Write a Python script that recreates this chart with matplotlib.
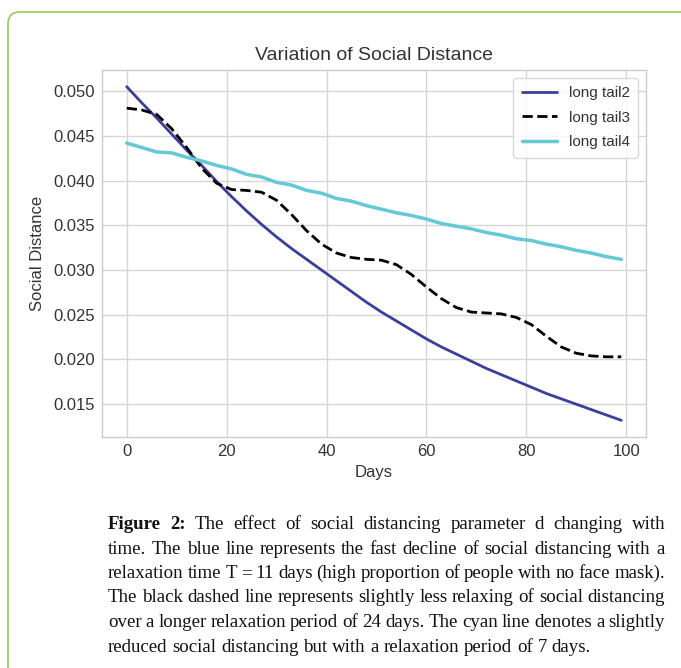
import matplotlib
matplotlib.use("Agg")
import matplotlib.pyplot as plt
from matplotlib.patches import FancyBboxPatch

# data (every 3 days)
days = list(range(0, 100, 3))
tail2 = [.0505, .0487, .0470, .0452, .0434, .0417, .0399, .0382, .0366, .0351,
         .0337, .0324, .0312, .0300, .0288, .0276, .0264, .0253, .0243, .0233,
         .0223, .0214, .0206, .0198, .0190, .0183, .0176, .0169, .0162, .0156,
         .0150, .0144, .0138, .0132]
tail3 = [.0481, .0479, .0474, .0458, .0437, .0414, .0397, .0390, .0389, .0387,
         .0378, .0362, .0344, .0329, .0319, .0314, .0312, .0311, .0306, .0295,
         .0281, .0268, .0258, .0253, .0252, .0251, .0247, .0239, .0226, .0214,
         .0207, .0204, .0203, .0203]
tail4 = [.0442, .0437, .0432, .0431, .0426, .0422, .0417, .0413, .0407, .0404,
         .0398, .0395, .0389, .0386, .0380, .0377, .0372, .0368, .0364, .0361,
         .0357, .0352, .0349, .0346, .0342, .0339, .0335, .0333, .0329, .0326,
         .0322, .0319, .0315, .0312]
labels = ["long tail2", "long tail3", "long tail4"]

caption = [
    "Figure 2: The effect of social distancing parameter d changing with",
    "time. The blue line represents the fast decline of social distancing with a",
    "relaxation time T = 11 days (high proportion of people with no face mask).",
    "The black dashed line represents slightly less relaxing of social distancing",
    "over a longer relaxation period of 24 days. The cyan line denotes a slightly",
    "reduced social distancing but with a relaxation period of 7 days.",
]

plt.style.use("seaborn-v0_8-whitegrid")
plt.rcParams["font.family"] = ["Liberation Sans", "DejaVu Sans"]

W, H = 681, 668
fig = plt.figure(figsize=(W / 100, H / 100), dpi=100)
fig.patch.set_facecolor("white")

# green rounded frame around the figure (only top and left edges show)
frame = FancyBboxPatch((8 / W, -0.2), 1.2, (H - 12) / H + 0.2,
                       boxstyle="round,pad=0,rounding_size=0.018",
                       transform=fig.transFigure, fill=False,
                       edgecolor="#9dd063", linewidth=1.3, zorder=0)
frame.set_clip_on(False)
fig.patches.append(frame)

ax = fig.add_axes([102 / W, 1 - 437 / H, (646 - 102) / W, (437 - 70) / H])
ax.plot(days, tail2, color="#3a3f9c", lw=2, label=labels[0])
ax.plot(days, tail3, color="black", lw=2, ls="--", label=labels[1])
ax.plot(days, tail4, color="#62c9d5", lw=2.5, label=labels[2])

ax.set_xticks([0, 20, 40, 60, 80, 100])
ax.set_yticks([0.015, 0.020, 0.025, 0.030, 0.035, 0.040, 0.045, 0.050])
ax.yaxis.set_major_formatter(matplotlib.ticker.FormatStrFormatter("%.3f"))
ax.tick_params(labelsize=12, colors="#333333", pad=5)
for s in ax.spines.values():
    s.set_color("#cccccc")
    s.set_linewidth(1)
ax.grid(color="#d6d6d6", lw=1)
ax.set_title("Variation of Social Distance", fontsize=14, color="#333333", pad=7)
ax.set_xlabel("Days", fontsize=12, color="#333333", labelpad=4)
ax.set_ylabel("Social Distance", fontsize=12, color="#333333", labelpad=6)
leg = ax.legend(loc="upper right", frameon=True, fontsize=11, handlelength=2.3,
                fancybox=True, borderpad=0.55, labelspacing=0.7)
leg.get_frame().set_edgecolor("#d0d0d0")
for t in leg.get_texts():
    t.set_color("#333333")

# justified caption
r = fig.canvas.get_renderer()
x0, x1 = 108, 665
probe = fig.text(0, 0, caption[-1], family="Liberation Serif", fontsize=10)
wp = probe.get_window_extent(r).width
probe.remove()
fs = 10 * 482 / wp

base = 529
step = 24.5
for i, line in enumerate(caption):
    y = 1 - (base + i * step) / H
    words = line.split(" ")
    objs = []
    for j, w in enumerate(words):
        bold = (i == 0 and j < 2)
        t = fig.text(0, y, w, family="Liberation Serif", fontsize=fs,
                     fontweight="bold" if bold else "normal", color="#111111",
                     va="baseline", ha="left")
        objs.append(t)
    widths = [t.get_window_extent(r).width for t in objs]
    if i < len(caption) - 1:
        gap = (x1 - x0 - sum(widths)) / (len(words) - 1)
    else:
        sp = fig.text(0, 0, "a a", family="Liberation Serif", fontsize=fs)
        sa = fig.text(0, 0, "aa", family="Liberation Serif", fontsize=fs)
        gap = sp.get_window_extent(r).width - sa.get_window_extent(r).width
        sp.remove()
        sa.remove()
    x = x0
    for t, w in zip(objs, widths):
        t.set_x(x / W)
        x += w + gap

fig.savefig("out.png", dpi=100)
